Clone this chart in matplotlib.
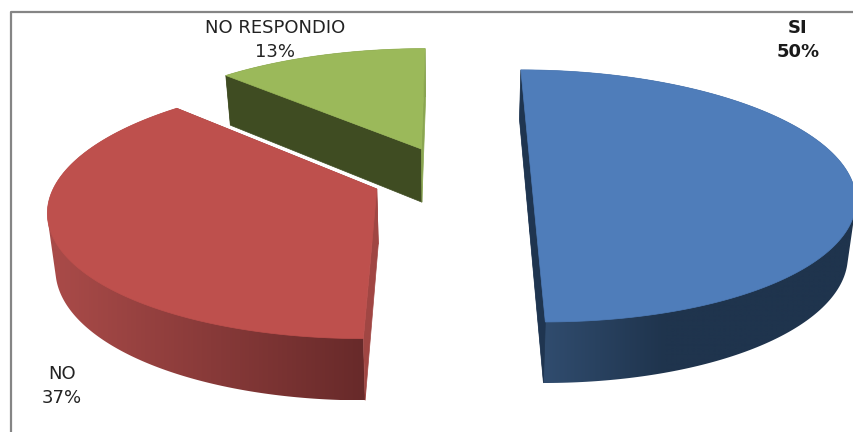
import numpy as np
import matplotlib
matplotlib.use('Agg')
import matplotlib.pyplot as plt
from matplotlib.patches import Polygon

labels = ['SI', 'NO', 'NO RESPONDIO']
values = [50, 37.45, 12.55]
percent_labels = ['50%', '37%', '13%']

top_colors = ['#4f7dba', '#be504d', '#9bb95a']
cut_colors = ['#1f3550', '#a04643', '#3f4c22']
second_cut_colors = ['#1f3550', '#a04643', '#8aa650']
# wall shading: from colour at x0 to colour at x1 (screen x)
wall_shades = [((545, (48, 76, 110)), (665, (31, 52, 77))),
               ((60, (168, 74, 72)), (363, (104, 42, 42))),
               ((230, (62, 74, 34)), (430, (62, 74, 34)))]

# perspective camera, in pixels
cx, cy = 451.5, 177
rx, ry = 319, 123.2
k = 0.15
depth = 54.5
shrink = 0.98
explode = [0.25, 0.25, 0.255]


def project(wx, wv, low=False):
    s = 1 - k * wv
    sx = cx + rx * wx / s
    sy = cy + ry * wv / s
    if low:
        sx = cx + (sx - cx) * shrink
        sy = sy + depth / s ** 0.7
    return sx, sy


def shade(x, stops):
    (x0, c0), (x1, c1) = stops
    t = np.clip((x - x0) / (x1 - x0), 0, 1)
    return np.stack([(c0[i] + (c1[i] - c0[i]) * t) / 255 for i in range(3)], axis=-1)


def hull(points):
    pts = sorted(map(tuple, points))

    def half(seq):
        out = []
        for p in seq:
            while len(out) > 1 and ((out[-1][0] - out[-2][0]) * (p[1] - out[-2][1])
                                    - (out[-1][1] - out[-2][1]) * (p[0] - out[-2][0])) <= 0:
                out.pop()
            out.append(p)
        return out[:-1]

    return np.array(half(pts) + half(pts[::-1]))


fig = plt.figure(figsize=(8.54, 4.32), dpi=100)
ax = fig.add_axes([0, 0, 1, 1])
ax.axis('off')

# chart frame, only top and left are in the picture
ax.plot([854, 11.5, 11.5], [11.5, 11.5, 432], color='#858585', lw=1.6, zorder=0)

shares = np.array(values) / sum(values)
starts = np.concatenate([[0], np.cumsum(shares)[:-1]]) * 2 * np.pi
ends = starts + shares * 2 * np.pi

# back slices first
for i in [2, 1, 0]:
    a = np.linspace(starts[i], ends[i], 240)
    mid = (starts[i] + ends[i]) / 2
    ox, ov = explode[i] * np.sin(mid), -explode[i] * np.cos(mid)
    wx = ox + np.sin(a)
    wv = ov - np.cos(a)
    tx, ty = project(wx, wv)
    bx, by = project(wx, wv, low=True)
    ax0, ay0 = project(ox, ov)
    ax1, ay1 = project(ox, ov, low=True)
    z = 3 - i

    # outer wall, the top face covers the part behind it
    outline = hull(np.column_stack([np.r_[tx, bx], np.r_[ty, by]]))
    xs = np.arange(np.floor(outline[:, 0].min()), np.ceil(outline[:, 0].max()) + 1)
    strip = shade(xs, wall_shades[i])[np.newaxis, :, :]
    im = ax.imshow(strip, extent=[xs[0], xs[-1], outline[:, 1].max(), outline[:, 1].min()],
                   aspect='auto', zorder=z, interpolation='bilinear')
    im.set_clip_path(Polygon(outline, transform=ax.transData))
    # the two cut faces
    for j, c in [(0, cut_colors[i]), (-1, second_cut_colors[i])]:
        ax.add_patch(Polygon([(ax0, ay0), (tx[j], ty[j]), (bx[j], by[j]), (ax1, ay1)],
                             fc=c, ec=c, lw=0.5, zorder=z + 0.2))
    # top
    ax.add_patch(Polygon(np.column_stack([np.r_[ax0, tx], np.r_[ay0, ty]]),
                         fc=top_colors[i], ec=top_colors[i], lw=0.5, zorder=z + 0.5))

ax.set_xlim(0, 854)
ax.set_ylim(432, 0)

font = 'DejaVu Sans'
ax.text(798, 28, labels[0], ha='center', va='center', fontsize=13, family=font, weight='bold', color='#1a1a1a', zorder=10)
ax.text(798, 52, percent_labels[0], ha='center', va='center', fontsize=13, family=font, weight='bold', color='#1a1a1a', zorder=10)
ax.text(62, 374, labels[1], ha='center', va='center', fontsize=13, family=font, color='#222222', zorder=10)
ax.text(62, 398, percent_labels[1], ha='center', va='center', fontsize=13, family=font, color='#222222', zorder=10)
ax.text(275, 28, labels[2], ha='center', va='center', fontsize=13, family=font, color='#222222', zorder=10)
ax.text(275, 52, percent_labels[2], ha='center', va='center', fontsize=13, family=font, color='#222222', zorder=10)

plt.savefig('out.png', dpi=100)
